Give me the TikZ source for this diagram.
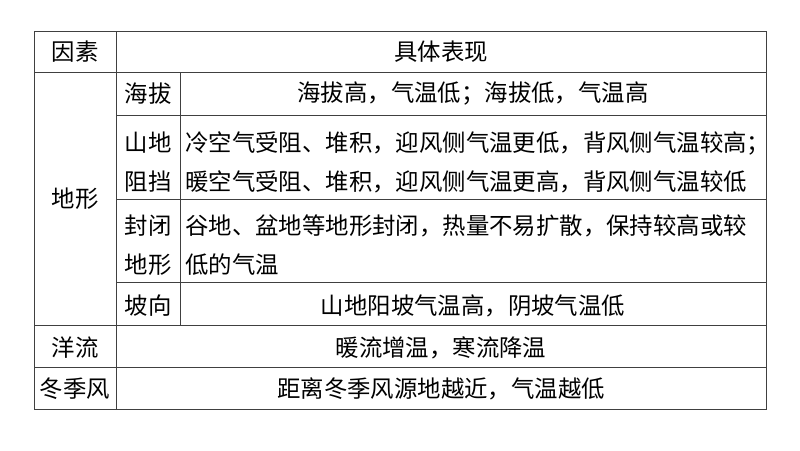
\documentclass[tikz,border=0pt]{standalone}
\usepackage{fontspec}
\setmainfont{Noto Sans CJK SC}
\begin{document}
\begin{tikzpicture}[x=1pt,y=-1pt,
  txt/.style={inner sep=0pt,font=\fontsize{23.4}{27}\selectfont},
  grid/.style={line width=1pt,draw=black!75}]
\useasboundingbox (0,0) rectangle (800,450);
\fill[white] (0,0) rectangle (800,450);
% grid
\draw[grid] (34,31) rectangle (766,409);
\draw[grid] (34,72.5) -- (766,72.5);
\draw[grid] (116.5,31) -- (116.5,409);
\draw[grid] (180,72.5) -- (180,325);
\draw[grid] (116.5,115.5) -- (766,115.5);
\draw[grid] (116.5,199) -- (766,199);
\draw[grid] (116.5,282.5) -- (766,282.5);
\draw[grid] (34,325) -- (766,325);
\draw[grid] (34,367) -- (766,367);
% texts
\node[txt] (h1) at (75,52) {因素};
\node[txt] (h2) at (441,52) {具体表现};
\node[txt] (f1) at (75,199) {地形};
\node[txt] (s1) at (148,94) {海拔};
\node[txt] (d1) at (473,94) {海拔高，气温低；海拔低，气温高};
\node[txt] (s2a) at (148,143) {山地};
\node[txt] (s2b) at (148,182) {阻挡};
\node[txt,anchor=west] (d2a) at (185,143) {冷空气受阻、堆积，迎风侧气温更低，背风侧气温较高；};
\node[txt,anchor=west] (d2b) at (185,182) {暖空气受阻、堆积，迎风侧气温更高，背风侧气温较低};
\node[txt] (s3a) at (148,226) {封闭};
\node[txt] (s3b) at (148,265) {地形};
\node[txt,anchor=west] (d3a) at (185,226) {谷地、盆地等地形封闭，热量不易扩散，保持较高或较};
\node[txt,anchor=west] (d3b) at (185,265) {低的气温};
\node[txt] (s4) at (148,306) {坡向};
\node[txt] (d4) at (473,306) {山地阳坡气温高，阴坡气温低};
\node[txt] (f2) at (75,348) {洋流};
\node[txt] (d5) at (441,348) {暖流增温，寒流降温};
\node[txt] (f3) at (75,389) {冬季风};
\node[txt] (d6) at (441,389) {距离冬季风源地越近，气温越低};
\end{tikzpicture}
\end{document}
